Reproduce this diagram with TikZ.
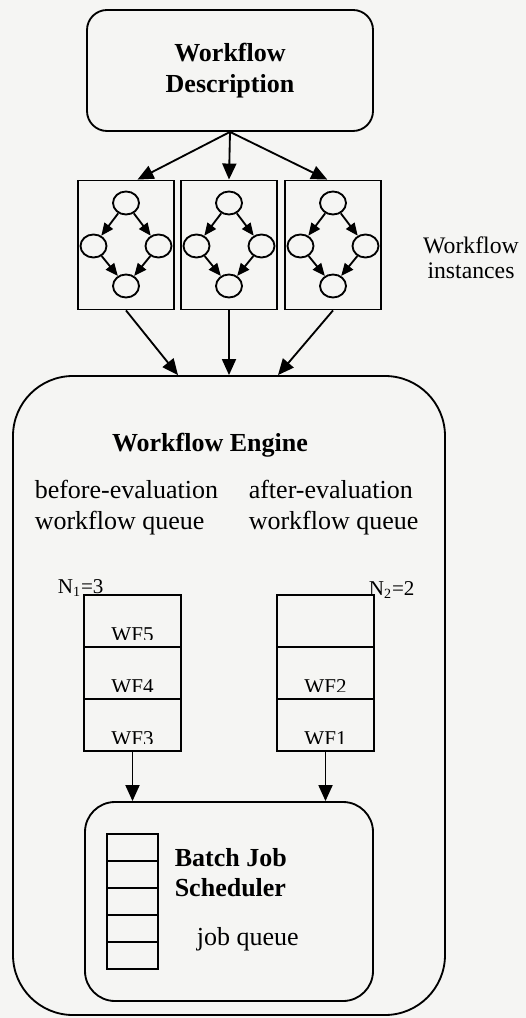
\documentclass[tikz,border=0pt]{standalone}
\usepackage{fontspec}
\setmainfont{Liberation Serif}
\usetikzlibrary{arrows.meta,positioning,calc,shapes.geometric}
\definecolor{paperColor}{RGB}{245,245,243}
\newcommand{\wfbig}{\fontsize{14.8}{17.4}\selectfont}
\newcommand{\wfmid}{\fontsize{13.5}{14.4}\selectfont}
\newcommand{\wfsmall}{\fontsize{12}{14}\selectfont}

\begin{document}
\begin{tikzpicture}[>={Triangle[length=0.32cm,width=0.28cm]},font=\wfbig,line width=1.05pt,
 roundbox/.style={draw,align=center},
 instbox/.style={draw,minimum width=1.92cm,minimum height=2.58cm},
 task/.style={draw,ellipse,minimum width=0.52cm,minimum height=0.46cm,inner sep=0pt},
 cell/.style={draw,outer sep=0pt,minimum width=1.94cm,minimum height=1.04cm},
 jobcell/.style={draw,minimum width=1.02cm,minimum height=0.54cm},
 arrow/.style={->},
 tiparrow/.style={-{Triangle[length=0.25cm,width=0.21cm]}}]
\fill[paperColor] (0,0) rectangle (10.52,-20.36);
\useasboundingbox (0,0) rectangle (10.52,-20.36);
\node[roundbox,rounded corners=0.4cm,font=\wfbig\bfseries,minimum width=5.72cm,minimum height=2.42cm] (desc) at (4.6,-1.41) {Workflow\\Description};
\foreach \i/\x in {1/2.52,2/4.58,3/6.66}{
 \node[instbox] (inst\i) at (\x,-4.9) {};
 \node[task] (top\i) at (\x,-4.06) {};
 \node[task] (left\i) at (\x-0.65,-4.92) {};
 \node[task] (right\i) at (\x+0.65,-4.92) {};
 \node[task] (bot\i) at (\x,-5.72) {};
 \draw[tiparrow] (top\i) -- (left\i);\draw[tiparrow] (top\i) -- (right\i);
 \draw[tiparrow] (left\i) -- (bot\i);\draw[tiparrow] (right\i) -- (bot\i);
}
\node[align=center,font=\wfmid] (instlbl) at (9.42,-5.16) {Workflow\\instances};
\draw[arrow] (desc.south) -- (inst1.80);
\draw[arrow] (desc.south) -- (inst2.north);
\draw[arrow] (desc.south) -- (inst3.95);
\node[roundbox,rounded corners=1.2cm,minimum width=8.64cm,minimum height=12.78cm] (engine) at (4.58,-13.91) {};
\draw[arrow] (inst1.south) -- ($(engine.north)+(-1.02,0)$);
\draw[arrow] (inst2.south) -- (engine.north);
\draw[arrow] (inst3.south) -- ($(engine.north)+(0.98,0)$);
\node[font=\wfbig\bfseries] (engtitle) at (4.2,-8.9) {Workflow Engine};
\node[anchor=west,align=left] (beforelbl) at (0.56,-10.15) {before-evaluation\\workflow queue};
\node[anchor=west,align=left] (afterlbl) at (4.84,-10.15) {after-evaluation\\workflow queue};
\node[cell] (q1a) at (2.65,-12.42) {};
\node[cell,below=0pt of q1a] (q1b) {};
\node[cell,below=0pt of q1b] (q1c) {};
\node[cell] (q2a) at (6.51,-12.42) {};
\node[cell,below=0pt of q2a] (q2b) {};
\node[cell,below=0pt of q2b] (q2c) {};
\foreach \c/\t in {q1a/WF5,q1b/WF4,q1c/WF3,q2b/WF2,q2c/WF1}{
 \begin{scope}
 \clip (\c.north west) rectangle ($(\c.south east)+(0,0.16)$);
 \node[font=\wfsmall,anchor=base] (\t) at ($(\c.south)+(0,0.12)$) {\t};
 \end{scope}
}
\node[font=\wfsmall,anchor=base west,inner sep=0pt] (n1) at (1.14,-11.86) {N\textsubscript{1}=3};
\node[font=\wfsmall,anchor=base west,inner sep=0pt] (n2) at (7.36,-11.9) {N\textsubscript{2}=2};
\node[roundbox,rounded corners=0.6cm,minimum width=5.76cm,minimum height=3.98cm] (sched) at (4.58,-18.03) {};
\draw[arrow] (q1c.south) -- (q1c.south |- sched.north);
\draw[arrow] (q2c.south) -- (q2c.south |- sched.north);
\foreach \k in {1,...,5}
 \node[jobcell] (job\k) at (2.65,{-16.95-0.54*(\k-1)}) {};
\node[font=\wfbig\bfseries,anchor=west,align=left] (schedlbl) at (3.36,-17.45) {Batch Job\\Scheduler};
\node[anchor=west] (jobq) at (3.8,-18.79) {job queue};
\end{tikzpicture}
\end{document}
